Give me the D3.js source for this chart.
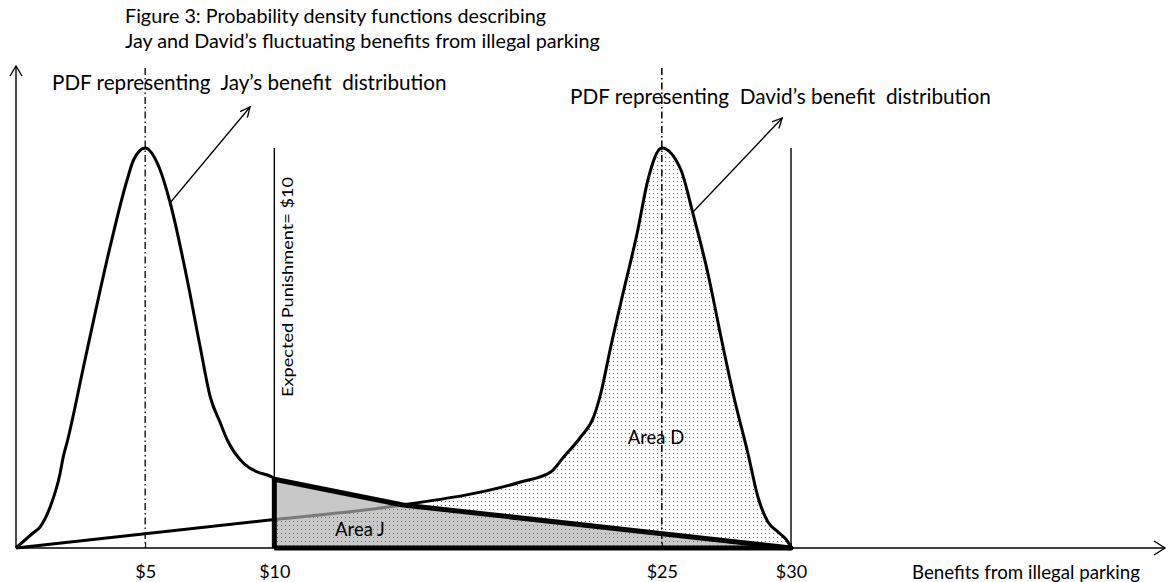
<!DOCTYPE html>
<html>
<head>
<meta charset="utf-8">
<script src="https://cdn.jsdelivr.net/npm/d3@7"></script>
<style>
  html, body { margin: 0; padding: 0; background: #fff; }
  svg { display: block; font-family: Lato, "Open Sans", sans-serif; }
</style>
</head>
<body>
<svg id="chart" width="1173" height="582"></svg>
<script>
// ---- data (x in dollars, y as relative density, peak = 1) ----
const titleLines = ["Figure 3: Probability density functions describing",
                    "Jay and David\u2019s fluctuating benefits from illegal parking"];
const tickValues = [5, 10, 25, 30];
const tickLabels = ["$5", "$10", "$25", "$30"];
const xAxisTitle = "Benefits from illegal parking";
const punishmentLabel = "Expected Punishment= $10";
const punishment = 10;
const upperBound = 30;
const jayMean = 5;
const davidMean = 25;

// Jay's PDF (smooth part, 0..$10)
const jayX = [0, 0.66, 0.93, 1.32, 1.71, 1.82, 2.0, 2.67, 3.64, 4.30, 4.55, 5.0, 5.55, 5.97, 6.63, 7.13, 7.52, 7.91, 8.18, 8.80, 9.34, 9.73, 10.0];
const jayY = [0, 0.0375, 0.0525, 0.1025, 0.1875, 0.225, 0.27, 0.47, 0.7525, 0.92, 0.97, 1.0, 0.95, 0.8625, 0.67, 0.5025, 0.3775, 0.3125, 0.27, 0.2125, 0.19, 0.1825, 0.175];
// Jay's tail (straight segments, $10..$30)
const jayTailX = [10, 14.98, 30];
const jayTailY = [0.172, 0.1075, 0];

// David's PDF
const davidX = [0, 10, 14.38, 19.53, 20.70, 21.2, 21.86, 22.36, 22.64, 23.02, 23.41, 24.07, 24.46, 25.0, 25.74, 26.2, 26.78, 27.29, 27.79, 28.33, 28.72, 29.11, 29.5, 29.95, 30];
const davidY = [0, 0.071, 0.1025, 0.165, 0.19, 0.2275, 0.2775, 0.3275, 0.3875, 0.5025, 0.6125, 0.795, 0.92, 1.0, 0.945, 0.8375, 0.6875, 0.5275, 0.3775, 0.2375, 0.1275, 0.065, 0.04, 0.0075, 0];

// annotations
const jayLabel = "PDF representing  Jay\u2019s benefit  distribution";
const davidLabel = "PDF representing  David\u2019s benefit  distribution";
const jayArrow = [[5.96, 0.8625], [9.06, 1.1025]];
const davidArrow = [[26.17, 0.8375], [29.66, 1.075]];
const areaDLabel = "Area D";
const areaJLabel = "Area J";

// ---- layout ----
const svg = d3.select("#chart");
const x = d3.scaleLinear().domain([0, 30]).range([16, 791]);
const y = d3.scaleLinear().domain([0, 1]).range([548, 148]);
const axisRight = 1165, axisTop = 66, guideTop = 1.2;

const jay = jayX.map((v, i) => [v, jayY[i]]);
const jayTail = jayTailX.map((v, i) => [v, jayTailY[i]]);
const david = davidX.map((v, i) => [v, davidY[i]]);
const triangle = [[punishment, 0]].concat(jayTail);

const line = d3.line().x(d => x(d[0])).y(d => y(d[1]));
const smooth = d3.line().x(d => x(d[0])).y(d => y(d[1])).curve(d3.curveMonotoneX);
const area = d3.area().x(d => x(d[0])).y0(y(0)).y1(d => y(d[1])).curve(d3.curveMonotoneX);

const defs = svg.append("defs");
const pat = defs.append("pattern").attr("id", "dots").attr("patternUnits", "userSpaceOnUse")
  .attr("width", 4).attr("height", 4);
pat.append("rect").attr("x", 1).attr("y", 1).attr("width", 1).attr("height", 1).attr("fill", "#707070");

defs.append("clipPath").attr("id", "inTri").append("path").attr("d", line(triangle) + "Z");
defs.append("clipPath").attr("id", "outTri").append("path")
  .attr("clip-rule", "evenodd")
  .attr("d", "M0,0H1173V582H0Z" + line(triangle) + "Z");

// Area J fill
svg.append("path").attr("d", line(triangle) + "Z").attr("fill", "#c8c8c8");
// Area D stipple
svg.append("path").attr("d", area(david.filter(d => d[0] >= punishment)))
  .attr("fill", "url(#dots)");

// guide lines
svg.append("line").attr("x1", x(jayMean)).attr("x2", x(jayMean)).attr("y1", y(guideTop)).attr("y2", y(0))
  .attr("stroke", "#000").attr("stroke-width", 1.3).attr("stroke-dasharray", "7,3,1.5,3");
svg.append("line").attr("x1", x(davidMean)).attr("x2", x(davidMean)).attr("y1", y(guideTop)).attr("y2", y(0))
  .attr("stroke", "#000").attr("stroke-width", 1.5).attr("stroke-dasharray", "7,3,1.5,3");
[punishment, upperBound].forEach(v => {
  svg.append("line").attr("x1", x(v)).attr("x2", x(v)).attr("y1", y(1)).attr("y2", y(0))
    .attr("stroke", "#000").attr("stroke-width", 1.4);
});

// axes
const axis = d3.axisBottom(x).tickValues(tickValues).tickFormat((d, i) => tickLabels[i])
  .tickSize(-5).tickPadding(17);
const gAxis = svg.append("g").attr("transform", `translate(0,${y(0)})`).call(axis);
gAxis.select(".domain").remove();
gAxis.selectAll("text").attr("font-size", 18).attr("fill", "#000").attr("font-family", "Lato, 'Open Sans', sans-serif");
gAxis.selectAll("line").attr("stroke", "#000");

svg.append("line").attr("x1", x(0)).attr("x2", axisRight).attr("y1", y(0)).attr("y2", y(0))
  .attr("stroke", "#000").attr("stroke-width", 1.4);
svg.append("path").attr("d", `M${axisRight - 11},${y(0) - 7}L${axisRight},${y(0)}L${axisRight - 11},${y(0) + 7}`)
  .attr("fill", "none").attr("stroke", "#000").attr("stroke-width", 1.4);
svg.append("line").attr("x1", x(0)).attr("x2", x(0)).attr("y1", y(0)).attr("y2", axisTop)
  .attr("stroke", "#000").attr("stroke-width", 1.4);
svg.append("path").attr("d", `M${x(0) - 6},${axisTop + 10}L${x(0)},${axisTop}L${x(0) + 6},${axisTop + 10}`)
  .attr("fill", "none").attr("stroke", "#000").attr("stroke-width", 1.4);

// David curve: black outside Area J, gray inside
svg.append("path").attr("d", smooth(david)).attr("fill", "none").attr("stroke", "#000")
  .attr("stroke-width", 3).attr("stroke-linejoin", "round").attr("clip-path", "url(#outTri)");
svg.append("path").attr("d", smooth(david)).attr("fill", "none").attr("stroke", "#7a7a7a")
  .attr("stroke-width", 3).attr("clip-path", "url(#inTri)");

// Jay curve
svg.append("path").attr("d", smooth(jay)).attr("fill", "none").attr("stroke", "#000")
  .attr("stroke-width", 3).attr("stroke-linejoin", "round");

// Area J border (thick)
svg.append("path").attr("d", line([[punishment, 0], [punishment, jayTailY[0]]]))
  .attr("stroke", "#000").attr("stroke-width", 5);
svg.append("path").attr("d", line([[punishment, 0], [upperBound, 0]]))
  .attr("stroke", "#000").attr("stroke-width", 5);
svg.append("path").attr("d", line(jayTail)).attr("fill", "none")
  .attr("stroke", "#000").attr("stroke-width", 5).attr("stroke-linecap", "round").attr("stroke-linejoin", "round");

// annotation arrows
function arrow(pts) {
  const [a, b] = pts.map(p => [x(p[0]), y(p[1])]);
  svg.append("line").attr("x1", a[0]).attr("y1", a[1]).attr("x2", b[0]).attr("y2", b[1])
    .attr("stroke", "#000").attr("stroke-width", 1.3);
  const ang = Math.atan2(b[1] - a[1], b[0] - a[0]);
  const L = 11, w = 0.45;
  const p1 = [b[0] - L * Math.cos(ang - w), b[1] - L * Math.sin(ang - w)];
  const p2 = [b[0] - L * Math.cos(ang + w), b[1] - L * Math.sin(ang + w)];
  svg.append("path").attr("d", `M${p1}L${b}L${p2}`).attr("fill", "none")
    .attr("stroke", "#000").attr("stroke-width", 1.3);
}
arrow(jayArrow);
arrow(davidArrow);

// texts: font size fitted to a target width
function txt(s, px, py, size, width, anchor) {
  const t = svg.append("text").attr("x", px).attr("y", py).attr("font-size", size)
    .attr("fill", "#000").attr("xml:space", "preserve").text(s);
  if (anchor) t.attr("text-anchor", anchor);
  if (width) {
    const w = t.node().getComputedTextLength();
    if (w > 0) t.attr("font-size", size * width / w);
  }
  return t;
}
const t2 = txt(titleLines[1], 125, 48, 15, 475);
txt(titleLines[0], 125, 23, +t2.attr("font-size"));
txt(jayLabel, 52, 90, 18.5, 395);
txt(davidLabel, 570, 104, 18.5, 421);
txt(areaDLabel, 656, 444, 18.5, null, "middle");
txt(areaJLabel, 360, 536, 18.5, null, "middle");
txt(xAxisTitle, 912, 579, 14.5, 228);
svg.append("text").attr("transform", `translate(293,397) rotate(-90)`)
  .attr("font-size", 15).attr("fill", "#000")
  .attr("textLength", 220).attr("lengthAdjust", "spacingAndGlyphs").text(punishmentLabel);
</script>
</body>
</html>
